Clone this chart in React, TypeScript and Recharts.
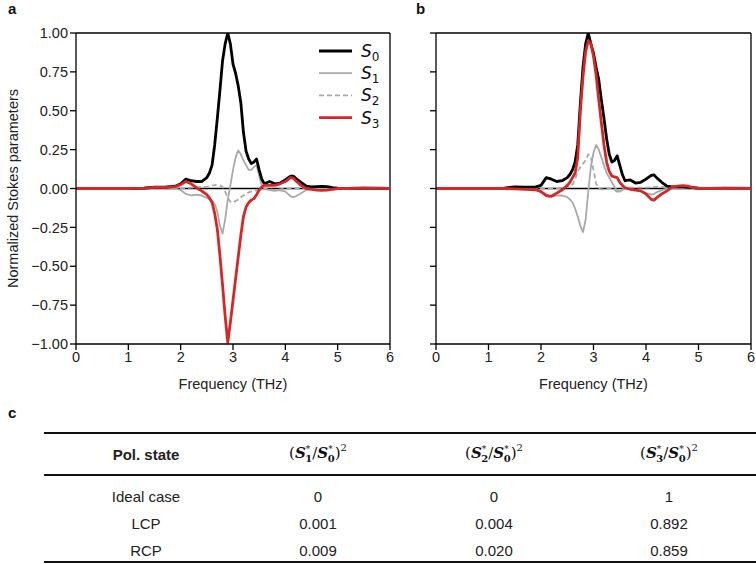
import React from 'react';
import { LineChart, Line, XAxis, YAxis, ReferenceLine, Legend, Label } from 'recharts';

const FONT = '"Liberation Sans", Arial, sans-serif';

const freq = [0, 0.5, 1.0, 1.3, 1.5, 1.7, 1.9, 2.0, 2.1, 2.2, 2.3, 2.4, 2.5, 2.55, 2.6, 2.65, 2.7, 2.75, 2.8, 2.85, 2.9, 2.95, 3.0, 3.05, 3.1, 3.15, 3.2, 3.25, 3.3, 3.35, 3.4, 3.45, 3.5, 3.55, 3.6, 3.7, 3.8, 3.9, 4.0, 4.1, 4.15, 4.2, 4.3, 4.4, 4.5, 4.6, 4.7, 4.8, 4.9, 5.0, 5.2, 5.5, 6.0];

// Panel a (LCP excitation)
const aS0 = [0, 0, 0, 0.003, 0.008, 0.008, 0.015, 0.03, 0.06, 0.05, 0.045, 0.045, 0.07, 0.1, 0.15, 0.28, 0.45, 0.63, 0.82, 0.93, 1.0, 0.93, 0.8, 0.74, 0.66, 0.55, 0.36, 0.24, 0.19, 0.16, 0.17, 0.19, 0.12, 0.06, 0.03, 0.045, 0.03, 0.035, 0.055, 0.08, 0.08, 0.065, 0.04, 0.015, 0.01, 0.012, 0.013, 0.012, 0.005, 0.002, 0, 0.003, 0];
const aS1 = [0, 0, 0, 0, 0, 0, 0, -0.01, -0.035, -0.045, -0.04, -0.045, -0.06, -0.07, -0.08, -0.1, -0.15, -0.24, -0.29, -0.2, -0.07, 0.02, 0.12, 0.2, 0.245, 0.22, 0.18, 0.15, 0.12, 0.12, 0.14, 0.15, 0.08, 0.02, 0, -0.01, -0.015, -0.01, -0.02, -0.05, -0.055, -0.05, -0.03, -0.01, 0, 0, 0, 0, 0, 0, 0, 0, 0];
const aS2 = [0, 0, 0, 0, 0, 0, 0, 0, 0.003, 0.005, 0.008, 0.01, 0.012, 0.015, 0.02, 0.022, 0.025, 0.02, 0.01, -0.02, -0.06, -0.085, -0.09, -0.08, -0.07, -0.055, -0.045, -0.035, -0.025, -0.02, -0.015, -0.012, -0.01, -0.008, -0.005, -0.005, -0.01, -0.005, 0, 0, 0, 0, 0, 0, 0, 0, 0, 0, 0, 0, 0, 0, 0];
const aS3 = [0, 0, 0, 0.002, 0.007, 0.007, 0.012, 0.025, 0.045, 0.03, 0.005, -0.015, -0.04, -0.06, -0.09, -0.16, -0.26, -0.43, -0.62, -0.82, -0.99, -0.86, -0.72, -0.58, -0.44, -0.3, -0.18, -0.12, -0.09, -0.075, -0.065, -0.04, -0.01, 0.01, 0.02, 0.02, 0.02, 0.03, 0.045, 0.07, 0.068, 0.05, 0.02, 0, -0.005, -0.01, -0.012, -0.01, -0.005, 0, 0, 0.003, 0];

// Panel b (RCP excitation)
const bS0 = [0, 0, 0, 0.003, 0.01, 0.008, 0.01, 0.02, 0.07, 0.06, 0.045, 0.05, 0.07, 0.09, 0.12, 0.17, 0.28, 0.55, 0.78, 0.93, 1.0, 0.93, 0.87, 0.78, 0.7, 0.57, 0.45, 0.32, 0.22, 0.17, 0.18, 0.21, 0.15, 0.09, 0.05, 0.055, 0.035, 0.04, 0.06, 0.085, 0.088, 0.07, 0.04, 0.015, 0.01, 0.01, 0.01, 0.008, 0.005, 0.002, 0, 0.003, 0];
const bS1 = [0, 0, 0, 0, 0, 0, 0, -0.02, -0.05, -0.05, -0.045, -0.045, -0.055, -0.07, -0.09, -0.13, -0.18, -0.24, -0.28, -0.2, -0.02, 0.14, 0.23, 0.28, 0.25, 0.2, 0.15, 0.1, 0.07, 0.04, 0.01, -0.015, -0.02, -0.01, 0, -0.005, -0.01, -0.015, -0.03, -0.04, -0.035, -0.025, -0.01, 0, 0, 0, 0, 0, 0, 0, 0, 0, 0];
const bS2 = [0, 0, 0, 0, 0, 0, 0, 0, 0, 0, 0, 0.005, 0.01, 0.015, 0.025, 0.06, 0.11, 0.14, 0.16, 0.18, 0.22, 0.2, 0.12, 0.03, 0, -0.005, -0.005, 0, 0, -0.005, -0.01, -0.02, -0.015, -0.005, 0, 0.005, 0.005, 0.005, 0.005, 0.008, 0.01, 0.01, 0.01, 0.008, 0.005, 0, 0, 0, 0, 0, 0, 0, 0];
const bS3 = [0, 0, 0, 0, -0.003, -0.005, -0.008, -0.02, -0.045, -0.05, -0.03, -0.01, 0.02, 0.04, 0.07, 0.1, 0.2, 0.5, 0.72, 0.88, 0.95, 0.93, 0.85, 0.73, 0.57, 0.42, 0.28, 0.17, 0.11, 0.08, 0.075, 0.07, 0.04, 0.02, 0.005, -0.005, -0.01, -0.015, -0.035, -0.07, -0.075, -0.06, -0.035, -0.015, 0.01, 0.015, 0.018, 0.015, 0.005, 0, 0, 0, 0];

const xTicks = [0, 1, 2, 3, 4, 5, 6];
const yTicks = [-1, -0.75, -0.5, -0.25, 0, 0.25, 0.5, 0.75, 1];

const legendSubs = ['0', '1', '2', '3'];
const seriesKeys = ['s0', 's1', 's2', 's3'];
const seriesColors = ['#000000', '#a9a9a9', '#a9a9a9', '#d62728'];
const seriesWidths = [2.8, 1.8, 1.8, 2.8];
const seriesDash = ['', '', '5 3', ''];

const polStates = ['Ideal case', 'LCP', 'RCP'];
const ratioS1 = ['0', '0.001', '0.009'];
const ratioS2 = ['0', '0.004', '0.020'];
const ratioS3 = ['1', '0.892', '0.859'];
const headerIdx = ['1', '2', '3'];

const buildRows = (s0: number[], s1: number[], s2: number[], s3: number[]) =>
  freq.map((f, i) => ({ f, s0: s0[i], s1: s1[i], s2: s2[i], s3: s3[i] }));

const fmtY = (v: number) => v.toFixed(2).replace('-', '\u2212');

const LegendContent = () => (
  <svg width={80} height={90} style={{ display: 'block' }}>
    {legendSubs.map((sub, i) => {
      const y = 11 + i * 22.2;
      return (
        <g key={sub}>
          <line x1={4} x2={37} y1={y} y2={y} stroke={seriesColors[i]} strokeWidth={seriesWidths[i]} strokeDasharray={seriesDash[i] || undefined} />
          <text x={46} y={y + 6} fontFamily='"DejaVu Sans", sans-serif' fontStyle="italic" fontSize={17} fill="#111">
            S<tspan fontStyle="normal" fontSize={12} dy={4}>{sub}</tspan>
          </text>
        </g>
      );
    })}
  </svg>
);

const axisStroke = { stroke: '#000', strokeWidth: 1.3 };
const tickFont = { fill: '#222', fontSize: 14.5, fontFamily: FONT };

function Panel({ rows, left, width, yAxisWidth, marginRight, showYLabels, showLegend }: any) {
  const order = [1, 2, 0, 3];
  return (
    <div style={{ position: 'absolute', left, top: 0 }}>
      <LineChart width={width} height={400} data={rows} margin={{ top: 33, right: marginRight, left: 0, bottom: 26 }}>
        <XAxis
          dataKey="f"
          type="number"
          domain={[0, 6]}
          ticks={xTicks}
          height={30}
          axisLine={axisStroke}
          tickLine={axisStroke}
          tickSize={6}
          tick={tickFont}
          allowDataOverflow
        >
          <Label value="Frequency (THz)" position="bottom" offset={5} style={tickFont} />
        </XAxis>
        <YAxis
          type="number"
          domain={[-1, 1]}
          ticks={yTicks}
          width={yAxisWidth}
          axisLine={axisStroke}
          tickLine={axisStroke}
          tickSize={6}
          tickFormatter={showYLabels ? fmtY : () => ''}
          tick={tickFont}
          allowDataOverflow
        >
          {showYLabels ? (
            <Label value="Normalized Stokes parameters" angle={-90} position="insideLeft" offset={13} style={{ ...tickFont, textAnchor: 'middle' }} />
          ) : null}
        </YAxis>
        <ReferenceLine y={1} stroke="#000" strokeWidth={1.3} />
        <ReferenceLine x={6} stroke="#000" strokeWidth={1.3} />
        <ReferenceLine y={0} stroke="#000" strokeWidth={1.3} />
        {order.map((i) => (
          <Line
            key={seriesKeys[i]}
            dataKey={seriesKeys[i]}
            type="linear"
            stroke={seriesColors[i]}
            strokeWidth={seriesWidths[i]}
            strokeDasharray={seriesDash[i] || undefined}
            strokeLinejoin="round"
            dot={false}
            activeDot={false}
            isAnimationActive={false}
          />
        ))}
        {showLegend ? (
          <Legend layout="vertical" align="center" verticalAlign="middle" content={LegendContent} wrapperStyle={{ left: 315, top: 40, width: 80, height: 90 }} />
        ) : null}
      </LineChart>
    </div>
  );
}

// Header math "(S*_n / S*_0)^2" drawn as a single SVG text element
const Ratio = ({ idx }: { idx: string }) => (
  <svg width={110} height={28} style={{ display: 'block', overflow: 'visible' }}>
    <text x={55} y={19} textAnchor="middle" fontFamily='"DejaVu Serif", serif' fontSize={15} fill="#111">
      (
      <tspan fontWeight="bold" fontStyle="italic">S</tspan>
      <tspan fontSize={9} dy={-6}>*</tspan>
      <tspan fontSize={10} fontWeight="bold" dx={-5} dy={10}>{idx}</tspan>
      <tspan dy={-4}>/</tspan>
      <tspan fontWeight="bold" fontStyle="italic">S</tspan>
      <tspan fontSize={9} dy={-6}>*</tspan>
      <tspan fontSize={10} fontWeight="bold" dx={-5} dy={10}>0</tspan>
      <tspan dy={-4}>)</tspan>
      <tspan fontSize={10} dy={-7}>2</tspan>
    </text>
  </svg>
);

const colX = [146, 318, 494, 669];
const rowY = [496, 523, 550];

const cellStyle = (x: number, y: number): React.CSSProperties => ({
  position: 'absolute',
  left: x,
  top: y,
  transform: 'translate(-50%, -50%)',
  fontFamily: FONT,
  fontSize: 15,
  color: '#222',
  whiteSpace: 'nowrap',
});

const rule = (y: number): React.CSSProperties => ({
  position: 'absolute',
  left: 44,
  width: 712,
  top: y,
  height: 1.5,
  background: '#111',
});

export default function App() {
  const rowsA = buildRows(aS0, aS1, aS2, aS3);
  const rowsB = buildRows(bS0, bS1, bS2, bS3);
  const cols = [polStates, ratioS1, ratioS2, ratioS3];
  return (
    <div style={{ position: 'absolute', left: 0, top: 0, width: 756, height: 564, background: '#fff', overflow: 'hidden', fontFamily: FONT }}>
      <Panel rows={rowsA} left={0} width={400} yAxisWidth={76} marginRight={10} showYLabels showLegend />
      <Panel rows={rowsB} left={380} width={376} yAxisWidth={56} marginRight={5} showYLabels={false} showLegend={false} />
      <div style={{ position: 'absolute', left: 8, top: 0, fontSize: 15, fontWeight: 'bold', color: '#111' }}>a</div>
      <div style={{ position: 'absolute', left: 416, top: 0, fontSize: 15, fontWeight: 'bold', color: '#111' }}>b</div>
      <div style={{ position: 'absolute', left: 8, top: 404, fontSize: 15, fontWeight: 'bold', color: '#111' }}>c</div>
      <div style={rule(432)} />
      <div style={rule(474)} />
      <div style={rule(561)} />
      <div style={{ ...cellStyle(colX[0], 454), fontWeight: 'bold' }}>Pol. state</div>
      {headerIdx.map((h, j) => (
        <div key={h} style={cellStyle(colX[j + 1], 453)}>
          <Ratio idx={h} />
        </div>
      ))}
      {cols.map((col, j) =>
        col.map((v, r) => (
          <div key={`${j}-${r}`} style={cellStyle(colX[j], rowY[r])}>
            {v}
          </div>
        ))
      )}
    </div>
  );
}
